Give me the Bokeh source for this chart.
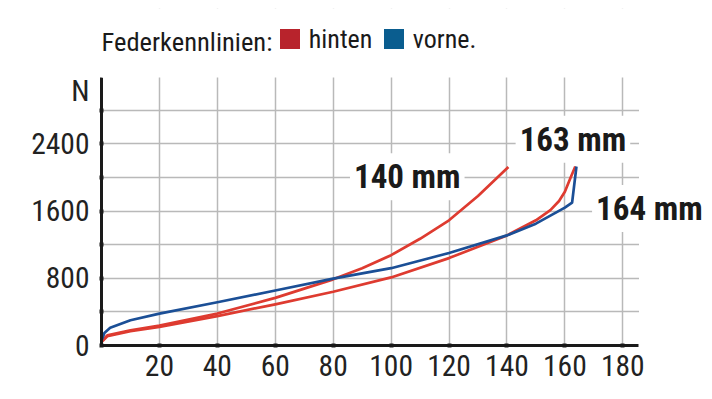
from bokeh.plotting import figure
from bokeh.models import (Range1d, FixedTicker, Label, Legend, LegendItem, BoxAnnotation)
from bokeh.embed import file_html
from bokeh.resources import INLINE

# ---- data ----
hinten163_x = [0, 2, 10, 20, 40, 60, 80, 100, 120, 140, 150, 155, 158, 160, 162, 163.6]
hinten163_y = [40, 110, 170, 220, 350, 490, 640, 810, 1040, 1310, 1490, 1610, 1720, 1830, 2000, 2130]

hinten140_x = [0, 2, 10, 20, 40, 60, 80, 90, 100, 110, 120, 130, 140.5]
hinten140_y = [50, 120, 180, 236, 380, 567, 787, 920, 1075, 1270, 1490, 1780, 2125]

vorne164_x = [0, 1, 3, 10, 20, 40, 60, 80, 100, 120, 140, 150, 160, 162.5, 164]
vorne164_y = [60, 150, 210, 300, 380, 515, 655, 795, 920, 1100, 1310, 1450, 1640, 1700, 2130]

x_ticks = [20, 40, 60, 80, 100, 120, 140, 160, 180]
y_grid_ticks = [400, 800, 1200, 1600, 2000, 2400, 2800]
y_mark_ticks = [0, 400, 800, 1200, 1600, 2000, 2400, 2800]
y_label_ticks = [0, 800, 1600, 2400, 3025]
y_labels = {0: "0", 800: "800", 1600: "1600", 2400: "2400", 3025: "N"}

legend_title = "Federkennlinien:"
legend_labels = ["hinten", "vorne."]

X_MAX = 185.6      # end of the drawn axis
Y_MAX = 3189

curve_labels = ["140 mm", "163 mm", "164 mm"]
curve_label_x = [85.8, 143.0, 169.4]
curve_label_y = [2007, 2454, 1631]

FONT = "Roboto Condensed, DejaVu Sans Condensed, Roboto"
RED_LINE = "#de3b30"
BLUE_LINE = "#1b4f96"
RED_BOX = "#b8232c"
BLUE_BOX = "#0a5d8f"
INK = "#1a1a1a"

p = figure(width=708, height=391, output_backend="svg", toolbar_location=None,
           x_range=Range1d(0, 209.6), y_range=Range1d(0, 4010),
           min_border_left=101, min_border_right=0, min_border_top=8, min_border_bottom=46)
p.outline_line_color = None
p.background_fill_color = "white"

xa, ya = p.xaxis[0], p.yaxis[0]
for ax in (xa, ya):
    ax.axis_line_width = 3
    ax.axis_line_color = INK
    ax.major_tick_in = 2
    ax.major_tick_out = 2
    ax.major_label_text_font = FONT
    ax.major_label_text_font_size = "29.5px"
    ax.major_label_text_color = "#222222"

xa.bounds = (0, X_MAX)
xa.ticker = FixedTicker(ticks=x_ticks)
xa.major_tick_line_width = 4
xa.major_tick_line_color = INK
xa.minor_tick_line_color = None
xa.major_label_standoff = 7

ya.bounds = (0, Y_MAX)
ya.ticker = FixedTicker(ticks=y_label_ticks, minor_ticks=y_mark_ticks)
ya.major_label_overrides = dict(y_labels)
ya.major_tick_line_color = None
ya.minor_tick_line_color = INK
ya.minor_tick_line_width = 4
ya.minor_tick_in = 2
ya.minor_tick_out = 2
ya.major_label_standoff = 10

p.xgrid[0].ticker = FixedTicker(ticks=x_ticks)
p.ygrid[0].ticker = FixedTicker(ticks=y_grid_ticks)
for g in (p.xgrid[0], p.ygrid[0]):
    g.grid_line_color = "#b9b9b9"
    g.grid_line_width = 1.5

p.line(hinten163_x, hinten163_y, line_color=RED_LINE, line_width=2.7, line_join="round")
p.line(hinten140_x, hinten140_y, line_color=RED_LINE, line_width=2.7, line_join="round")
p.line(vorne164_x, vorne164_y, line_color=BLUE_LINE, line_width=2.7, line_join="round")

# keep grid inside the chart area (area above / right of the axes stays blank)
p.add_layout(BoxAnnotation(bottom=Y_MAX, fill_color="white", fill_alpha=1, line_color=None))
p.add_layout(BoxAnnotation(left=X_MAX, fill_color="white", fill_alpha=1, line_color=None))

for t, lx, ly in zip(curve_labels, curve_label_x, curve_label_y):
    p.add_layout(Label(x=lx, y=ly, text=t, text_font=FONT, text_font_style="bold",
                       text_font_size="33px", text_color=INK, text_baseline="middle",
                       background_fill_color="white", padding=4))

# legend title
p.add_layout(Label(x=0, y=3615, text=legend_title, text_font=FONT, text_font_size="26.5px",
                   text_color=INK, text_baseline="middle"))

# zero-size proxies so the legend can show filled squares
q_red = p.quad(left=[0], right=[0], top=[0], bottom=[0], fill_color=RED_BOX, line_color=None)
q_blue = p.quad(left=[0], right=[0], top=[0], bottom=[0], fill_color=BLUE_BOX, line_color=None)

legend = Legend(items=[LegendItem(label=legend_labels[0], renderers=[q_red]),
                       LegendItem(label=legend_labels[1], renderers=[q_blue])],
                location=(175.8, 291.5), orientation="horizontal",
                glyph_width=25, glyph_height=25, label_standoff=7, label_width=72,
                label_height=25, spacing=0, padding=0, margin=0,
                border_line_color=None, background_fill_alpha=0,
                label_text_font=FONT, label_text_font_size="26px", label_text_color=INK)
p.add_layout(legend, "center")

open("out.html", "w").write(file_html(p, INLINE))
